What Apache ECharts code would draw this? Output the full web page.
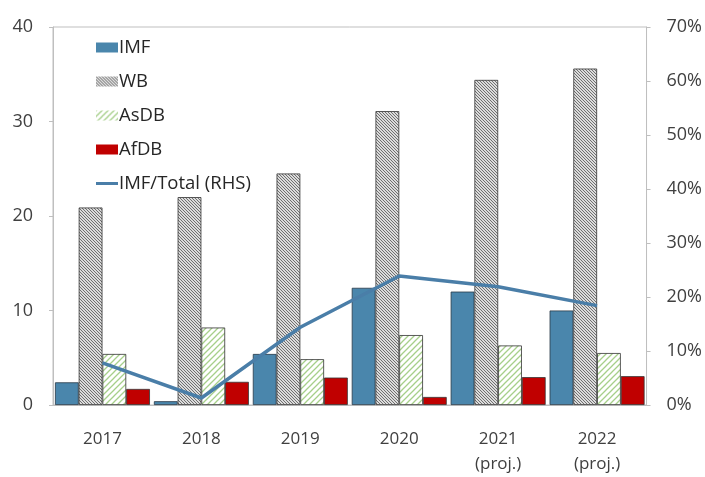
<!DOCTYPE html>
<html>
<head>
<meta charset="utf-8">
<script src="https://cdn.jsdelivr.net/npm/echarts@6/dist/echarts.min.js"></script>
<style>html,body{margin:0;padding:0;background:#fff}#c{width:705px;height:477px}</style>
</head>
<body>
<div id="c"></div>
<script>
var categories = ['2017', '2018', '2019', '2020', '2021\n(proj.)', '2022\n(proj.)'];
var imf = [2.4, 0.4, 5.4, 12.4, 12.0, 10.0];
var wb = [20.9, 22.0, 24.5, 31.1, 34.4, 35.6];
var asdb = [5.4, 8.2, 4.85, 7.4, 6.3, 5.5];
var afdb = [1.7, 2.45, 2.9, 0.85, 2.95, 3.05];
var imfShare = [7.8, 1.3, 14.4, 23.9, 21.9, 18.4];
var leftTicks = [0, 40, 10];
var rightTicks = [0, 70, 10];

function makePattern(bg, fg, size, dir, lw) {
  var c = document.createElement('canvas');
  c.width = size; c.height = size;
  var g = c.getContext('2d');
  g.fillStyle = bg; g.fillRect(0, 0, size, size);
  g.strokeStyle = fg; g.lineWidth = lw;
  g.beginPath();
  if (dir === 'back') {
    g.moveTo(-1, -1); g.lineTo(size + 1, size + 1);
    g.moveTo(-1, size - 1); g.lineTo(1, size + 1);
    g.moveTo(size - 1, -1); g.lineTo(size + 1, 1);
  } else {
    g.moveTo(-1, size + 1); g.lineTo(size + 1, -1);
    g.moveTo(-1, 1); g.lineTo(1, -1);
    g.moveTo(size - 1, size + 1); g.lineTo(size + 1, size - 1);
  }
  g.stroke();
  return c;
}
var wbPat = { image: makePattern('#dcdcdc', '#707070', 3, 'back', 1), repeat: 'repeat' };
var asPat = { image: makePattern('#ffffff', '#a6cf8a', 6, 'fwd', 1.3), repeat: 'repeat' };

var chart = echarts.init(document.getElementById('c'));
var font = '"Open Sans", "Noto Sans", sans-serif';
var lbl = { fontSize: 17, color: '#404040', fontFamily: font };
chart.setOption({
  animation: false,
  grid: { left: 53, right: 58, top: 27, bottom: 65, show: true, borderColor: '#bfbfbf', borderWidth: 1 },
  legend: {
    orient: 'vertical', left: 91, top: 33, itemWidth: 22, itemHeight: 10, itemGap: 15,
    itemStyle: { borderWidth: 0 },
    textStyle: { fontSize: 18.5, color: '#262626', fontFamily: font, padding: [0, 0, 0, -4] },
    data: [
      { name: 'IMF', icon: 'rect' },
      { name: 'WB', icon: 'rect' },
      { name: 'AsDB', icon: 'rect' },
      { name: 'AfDB', icon: 'rect' },
      { name: 'IMF/Total (RHS)', icon: 'path://M0,0 L22,0 L22,3 L0,3 Z' }
    ]
  },
  xAxis: {
    type: 'category', data: categories,
    axisLine: { lineStyle: { color: '#bfbfbf' } },
    axisTick: { show: false },
    axisLabel: Object.assign({ margin: 22, lineHeight: 25, interval: 0 }, lbl)
  },
  yAxis: [
    { type: 'value', min: leftTicks[0], max: leftTicks[1], interval: leftTicks[2],
      axisLine: { show: true, lineStyle: { color: '#bfbfbf' } },
      axisTick: { show: true, length: 4, lineStyle: { color: '#bfbfbf' } },
      splitLine: { show: false },
      axisLabel: Object.assign({ margin: 20 }, lbl, { fontSize: 18 }) },
    { type: 'value', min: rightTicks[0], max: rightTicks[1], interval: rightTicks[2],
      axisLine: { show: true, lineStyle: { color: '#bfbfbf' } },
      axisTick: { show: true, length: 4, lineStyle: { color: '#bfbfbf' } },
      splitLine: { show: false },
      axisLabel: Object.assign({ margin: 20, formatter: '{value}%' }, lbl, { fontSize: 18 }) }
  ],
  series: [
    { name: 'IMF', type: 'bar', data: imf, barGap: '0%', barCategoryGap: '4%',
      itemStyle: { color: '#4a86ac', borderColor: '#2a3a48', borderWidth: 0.8 } },
    { name: 'WB', type: 'bar', data: wb,
      itemStyle: { color: wbPat, borderColor: '#333', borderWidth: 0.8 } },
    { name: 'AsDB', type: 'bar', data: asdb,
      itemStyle: { color: asPat, borderColor: '#333', borderWidth: 0.8 } },
    { name: 'AfDB', type: 'bar', data: afdb,
      itemStyle: { color: '#c00000', borderColor: '#333', borderWidth: 0.8 } },
    { name: 'IMF/Total (RHS)', type: 'line', yAxisIndex: 1, data: imfShare,
      symbol: 'none', lineStyle: { color: '#4a7ea8', width: 3.5 }, itemStyle: { color: '#4a7ea8' } }
  ]
});
</script>
</body>
</html>
